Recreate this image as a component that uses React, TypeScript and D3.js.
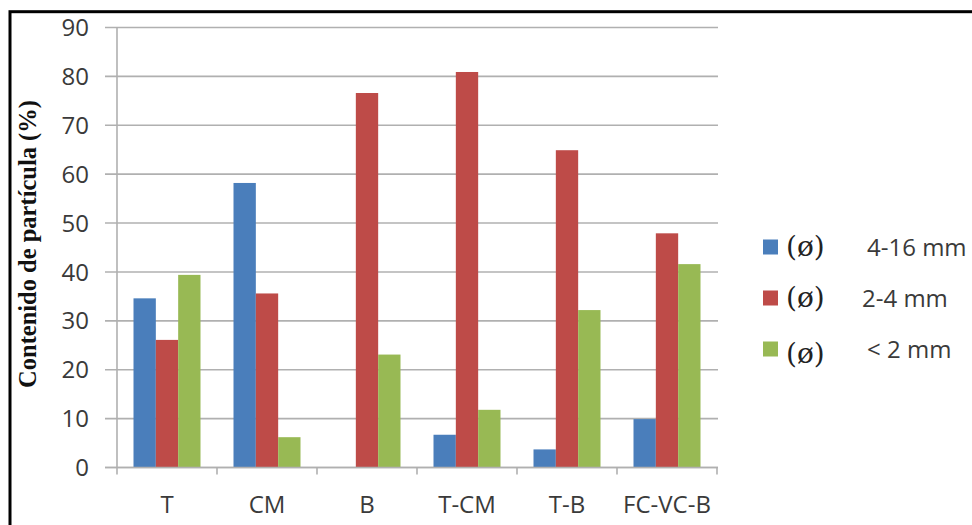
import React from "react";
import * as d3 from "d3";

// Particle-size fractions (%) per sample group
const categories = ["T", "CM", "B", "T-CM", "T-B", "FC-VC-B"];
const coarse = [34.6, 58.2, 0, 6.7, 3.7, 9.9]; // 4-16 mm
const medium = [26.1, 35.6, 76.6, 80.9, 64.9, 47.9]; // 2-4 mm
const fine = [39.4, 6.2, 23.1, 11.8, 32.2, 41.6]; // < 2 mm
const seriesLabels = ["4-16 mm", "2-4 mm", "< 2 mm"];
const seriesColors = ["#4a7ebb", "#be4b48", "#98b954"];
const yTicks = [0, 10, 20, 30, 40, 50, 60, 70, 80, 90];

const W = 972;
const H = 525;
const plot = { left: 117, right: 717, top: 27.5, bottom: 467.5 };
const sans = "'Open Sans', sans-serif";
const textGray = "#3a3a3a";
const gridGray = "#b0b0b0";

export default function App() {
  const series = [coarse, medium, fine];
  const x = d3
    .scaleBand<string>()
    .domain(categories)
    .range([plot.left, plot.right])
    .padding(0);
  const xs = d3
    .scaleBand<number>()
    .domain(d3.range(series.length))
    .range([16.5, x.bandwidth() - 16.5])
    .padding(0);
  const y = d3.scaleLinear().domain([0, 90]).range([plot.bottom, plot.top]);

  const boundaries = categories.map((c) => x(c) as number).concat([plot.right]);

  const legendRows = [247, 298, 349];

  return (
    <svg
      width={W}
      height={H}
      style={{ position: "absolute", left: 0, top: 0, background: "#fff" }}
    >
      <rect x={0} y={0} width={W} height={H} fill="#ffffff" />
      {/* frame */}
      <rect
        x={10}
        y={11.7}
        width={1100}
        height={700}
        fill="none"
        stroke="#000"
        strokeWidth={3}
      />

      {/* gridlines */}
      {yTicks.map((t) => (
        <line
          key={"g" + t}
          x1={105}
          x2={plot.right + 1}
          y1={y(t)}
          y2={y(t)}
          stroke={gridGray}
          strokeWidth={1.6}
        />
      ))}

      {/* y axis */}
      <line
        x1={plot.left}
        x2={plot.left}
        y1={plot.top}
        y2={plot.bottom}
        stroke={gridGray}
        strokeWidth={1.6}
      />

      {/* bars */}
      {series.map((vals, si) =>
        vals.map((v, ci) => {
          const x0 = (x(categories[ci]) as number) + (xs(si) as number);
          return (
            <rect
              key={`b${si}-${ci}`}
              x={x0}
              y={y(v)}
              width={xs.bandwidth()}
              height={y(0) - y(v)}
              fill={seriesColors[si]}
            />
          );
        })
      )}

      {/* x axis + ticks */}
      <line
        x1={105}
        x2={plot.right + 1}
        y1={plot.bottom}
        y2={plot.bottom}
        stroke={gridGray}
        strokeWidth={1.6}
      />
      {boundaries.map((bx, i) => (
        <line
          key={"t" + i}
          x1={bx}
          x2={bx}
          y1={plot.bottom}
          y2={plot.bottom + 7}
          stroke={gridGray}
          strokeWidth={1.6}
        />
      ))}

      {/* y tick labels */}
      {yTicks.map((t) => (
        <text
          key={"yl" + t}
          x={89}
          y={y(t)}
          dy="0.36em"
          textAnchor="end"
          fontFamily={sans}
          fontSize={24}
          fontWeight={500}
          fill={textGray}
        >
          {t}
        </text>
      ))}

      {/* category labels */}
      {categories.map((c) => (
        <text
          key={"xl" + c}
          x={(x(c) as number) + x.bandwidth() / 2}
          y={513}
          textAnchor="middle"
          fontFamily={sans}
          fontSize={24}
          fontWeight={500}
          fill={textGray}
        >
          {c}
        </text>
      ))}

      {/* y axis title */}
      <text
        transform={`translate(36,244) rotate(-90)`}
        textAnchor="middle"
        fontFamily="'Liberation Serif', 'Times New Roman', serif"
        fontWeight="bold"
        fontSize={24.5}
        fill="#111"
      >
        Contenido de partícula (%)
      </text>

      {/* legend */}
      {seriesLabels.map((lab, i) => {
        const cy = legendRows[i];
        return (
          <g key={"lg" + i}>
            <rect
              x={763}
              y={cy - 7.5}
              width={15}
              height={15}
              fill={seriesColors[i]}
            />
            <text
              x={786}
              y={cy + (i === 2 ? 5 : 0)}
              dy="0.33em"
              fontFamily="'DejaVu Serif', serif"
              fontSize={28}
              fill="#222"
            >
              (ø)
            </text>
            <text
              x={i === 1 ? 862 : 867}
              y={cy}
              dy="0.36em"
              fontFamily={sans}
              fontSize={24}
              fontWeight={500}
              fill={textGray}
            >
              {lab}
            </text>
          </g>
        );
      })}
    </svg>
  );
}
